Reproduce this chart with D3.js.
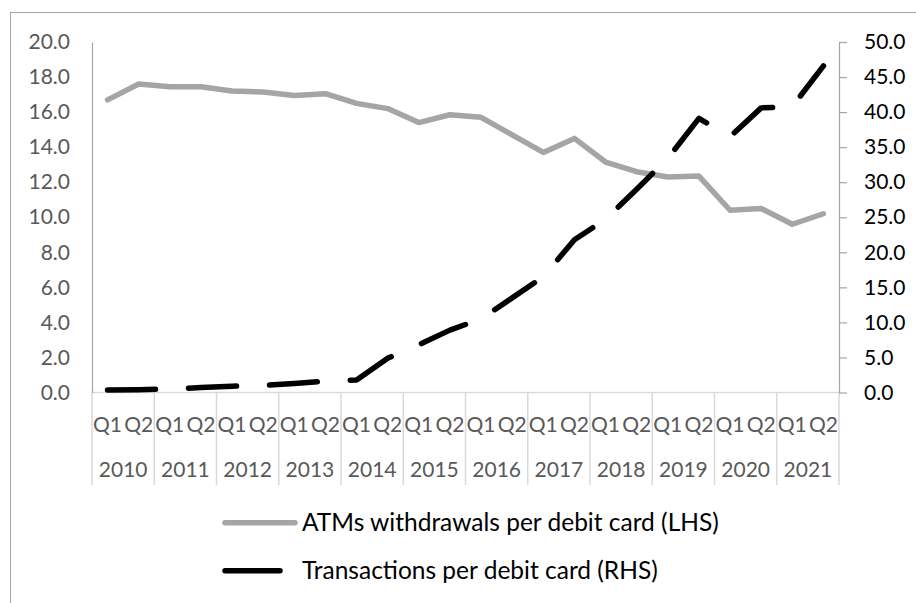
<!DOCTYPE html>
<html>
<head>
<meta charset="utf-8">
<script src="https://cdn.jsdelivr.net/npm/d3@7"></script>
<style>
  body { margin: 0; background: #fff; }
  svg text { font-family: Lato, "Open Sans", sans-serif; }
</style>
</head>
<body>
<div id="chart"></div>
<script>
// data
const years = ["2010","2011","2012","2013","2014","2015","2016","2017","2018","2019","2020","2021"]
const halves = ["Q1","Q2"]
const atmWithdrawals = [16.7, 17.6, 17.45, 17.45, 17.2, 17.15, 16.95, 17.05, 16.5, 16.2, 15.4, 15.85,
                        15.7, 14.7, 13.7, 14.5, 13.15, 12.6, 12.3, 12.35, 10.4, 10.5, 9.6, 10.2]
const transactions = [0.35, 0.4, 0.5, 0.7, 0.9, 1.0, 1.3, 1.6, 1.8, 4.9, 6.8, 8.9,
                      10.5, 13.5, 16.5, 21.8, 24.7, 29.0, 33.4, 39.1, 36.5, 40.6, 40.8, 46.6]
const leftTicks = [0, 2, 4, 6, 8, 10, 12, 14, 16, 18, 20]
const rightTicks = [0, 5, 10, 15, 20, 25, 30, 35, 40, 45, 50]
const legendLabels = ["ATMs withdrawals per debit card (LHS)", "Transactions per debit card (RHS)"]

const width = 916, height = 603
const plotLeft = 92, plotRight = 839, plotTop = 42, plotBottom = 392.5

// categories: one per year/half
let cats = []
years.forEach(y => halves.forEach(h => cats.push(y + " " + h)))

const svg = d3.select("#chart").append("svg")
  .attr("width", width)
  .attr("height", height)

// outer frame (right and bottom edges fall outside the picture)
svg.append("rect")
  .attr("x", 10.5).attr("y", 12.5)
  .attr("width", 1000).attr("height", 1000)
  .attr("fill", "none")
  .attr("stroke", "#a6a6a6")
  .attr("stroke-width", 1)

const x = d3.scaleBand().domain(cats).range([plotLeft, plotRight]).padding(0)
const xYear = d3.scaleBand().domain(years).range([plotLeft, plotRight]).padding(0)
const yL = d3.scaleLinear().domain([0, 20]).range([plotBottom, plotTop])
const yR = d3.scaleLinear().domain([0, 50]).range([plotBottom, plotTop])
const cx = c => x(c) + x.bandwidth() / 2

// horizontal category axis line
svg.append("line")
  .attr("x1", plotLeft).attr("x2", plotRight)
  .attr("y1", plotBottom).attr("y2", plotBottom)
  .attr("stroke", "#d9d9d9").attr("stroke-width", 1.5)

// year separators
let seps = [plotLeft].concat(years.map(y => xYear(y) + xYear.bandwidth()))
svg.selectAll(".sep").data(seps).enter().append("line")
  .attr("class", "sep")
  .attr("x1", d => d).attr("x2", d => d)
  .attr("y1", plotBottom).attr("y2", 485)
  .attr("stroke", "#d9d9d9").attr("stroke-width", 1.5)

// Q labels
let qAxis = svg.append("g")
  .attr("transform", `translate(0,${plotBottom})`)
  .call(d3.axisBottom(x).tickSize(0).tickFormat(d => d.split(" ")[1]))
qAxis.select(".domain").remove()
qAxis.selectAll("text")
  .attr("y", 32).attr("dy", "0.35em")
  .style("font-size", "21px").attr("fill", "#595959")

// year labels
let yearAxis = svg.append("g")
  .attr("transform", `translate(0,${plotBottom})`)
  .call(d3.axisBottom(xYear).tickSize(0))
yearAxis.select(".domain").remove()
yearAxis.selectAll("text")
  .attr("y", 77).attr("dy", "0.35em")
  .style("font-size", "21px").attr("fill", "#595959")

// left axis
let axL = svg.append("g")
  .attr("transform", `translate(${plotLeft},0)`)
  .call(d3.axisLeft(yL).tickValues(leftTicks).tickSize(0).tickPadding(22).tickFormat(d3.format(".1f")))
axL.select(".domain").attr("stroke", "#a6a6a6").attr("stroke-width", 1.2)
axL.selectAll("text").style("font-size", "21px").attr("fill", "#595959")

// right axis
let axR = svg.append("g")
  .attr("transform", `translate(${plotRight},0)`)
  .call(d3.axisRight(yR).tickValues(rightTicks).tickSize(8).tickSizeOuter(0).tickPadding(17).tickFormat(d3.format(".1f")))
axR.select(".domain").attr("stroke", "#a6a6a6").attr("stroke-width", 1.2)
axR.selectAll(".tick line").attr("stroke", "#a6a6a6").attr("stroke-width", 1.2)
axR.selectAll("text").style("font-size", "21px").attr("fill", "#000")

// lines
let lineL = d3.line().x((d, i) => cx(cats[i])).y(d => yL(d))
let lineR = d3.line().x((d, i) => cx(cats[i])).y(d => yR(d))

svg.append("path")
  .datum(atmWithdrawals)
  .attr("d", lineL)
  .attr("fill", "none")
  .attr("stroke", "#a5a5a5")
  .attr("stroke-width", 5.5)
  .attr("stroke-linejoin", "round")
  .attr("stroke-linecap", "round")

svg.append("path")
  .datum(transactions)
  .attr("d", lineR)
  .attr("fill", "none")
  .attr("stroke", "#000")
  .attr("stroke-width", 5.5)
  .attr("stroke-dasharray", "48,33")
  .attr("stroke-linejoin", "round")
  .attr("stroke-linecap", "round")

// legend
let legend = svg.append("g")
let legY = [522.7, 570.7]
legend.append("line")
  .attr("x1", 225).attr("x2", 295)
  .attr("y1", legY[0]).attr("y2", legY[0])
  .attr("stroke", "#a5a5a5").attr("stroke-width", 5.5).attr("stroke-linecap", "round")
legend.append("line")
  .attr("x1", 225).attr("x2", 280)
  .attr("y1", legY[1]).attr("y2", legY[1])
  .attr("stroke", "#000").attr("stroke-width", 5.5).attr("stroke-linecap", "round")
legend.selectAll(".legtext").data(legendLabels).enter().append("text")
  .attr("class", "legtext")
  .attr("x", 302)
  .attr("y", (d, i) => legY[i])
  .attr("dy", "0.35em")
  .style("font-size", "24.5px")
  .attr("fill", "#000")
  .text(d => d)
</script>
</body>
</html>
